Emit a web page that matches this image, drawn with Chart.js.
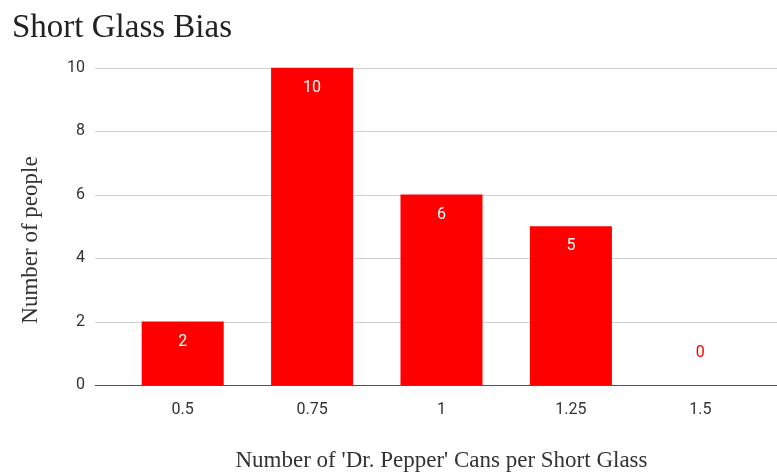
<!DOCTYPE html>
<html>
<head>
<meta charset="utf-8">
<script src="https://cdn.jsdelivr.net/npm/chart.js@4/dist/chart.umd.min.js"></script>
<style>
  html, body { margin: 0; padding: 0; background: #fff; }
  #wrap { width: 777px; height: 472px; }
</style>
</head>
<body>
<div id="wrap"><canvas id="glassChart"></canvas></div>
<script>
const categories = ["0.5", "0.75", "1", "1.25", "1.5"]
const people = [2, 10, 6, 5, 0]
const yTicks = [0, 2, 4, 6, 8, 10]
const yTitle = "Number of people"

// horizontal gridlines that run past the plot area like the original
const gridPlugin = {
  id: "wideGrid",
  beforeDatasetsDraw(chart) {
    const { ctx } = chart
    const y = chart.scales.y
    ctx.save()
    ctx.lineWidth = 1
    yTicks.forEach((v) => {
      const py = Math.round(y.getPixelForValue(v)) + 0.5
      ctx.strokeStyle = v === 0 ? "#555" : "#d0d0d0"
      ctx.beginPath()
      ctx.moveTo(95, py)
      ctx.lineTo(chart.width, py)
      ctx.stroke()
    })
    ctx.restore()
  },
}

// value labels on the bars, plus the rotated y title (sits a bit lower than centre)
const labelPlugin = {
  id: "barLabels",
  afterDatasetsDraw(chart) {
    const { ctx } = chart
    const meta = chart.getDatasetMeta(0)
    ctx.save()
    ctx.font = "16px Roboto, Arial, sans-serif"
    ctx.textAlign = "center"
    ctx.textBaseline = "middle"
    meta.data.forEach((bar, i) => {
      const v = people[i]
      if (v > 0) {
        ctx.fillStyle = "#ffffff"
        ctx.fillText(String(v), bar.x, bar.y + 20)
      } else {
        ctx.fillStyle = "#ff0000"
        ctx.fillText(String(v), bar.x, bar.base - 32)
      }
    })

    ctx.translate(31, 240)
    ctx.rotate(-Math.PI / 2)
    ctx.fillStyle = "#333"
    ctx.font = "23px 'Liberation Serif'"
    ctx.fillText(yTitle, 0, 0)
    ctx.restore()
  },
}

new Chart(document.getElementById("glassChart"), {
  type: "bar",
  data: {
    labels: categories,
    datasets: [
      {
        label: "Number of people",
        data: people,
        backgroundColor: "#ff0000",
        borderWidth: 0,
        barPercentage: 0.634,
        categoryPercentage: 1,
      },
    ],
  },
  options: {
    responsive: true,
    maintainAspectRatio: false,
    animation: false,
    layout: { padding: { left: 12, right: 12, top: 0, bottom: 0 } },
    scales: {
      x: {
        grid: { display: false, drawTicks: false },
        border: { display: false },
        ticks: { color: "#333", font: { family: "Roboto, Arial, sans-serif", size: 16 }, padding: 15 },
        title: {
          display: true,
          text: "Number of 'Dr. Pepper' Cans per Short Glass",
          color: "#333",
          font: { family: "Liberation Serif", size: 23 },
          padding: { top: 0, bottom: -3 },
        },
        afterFit(scale) {
          scale.height = 87
        },
      },
      y: {
        min: 0,
        max: 10,
        grid: { display: false, drawTicks: false },
        border: { display: false },
        ticks: { stepSize: 2, color: "#333", font: { family: "Roboto, Arial, sans-serif", size: 16 }, padding: 33 },
        afterFit(scale) {
          scale.width = 106
        },
      },
    },
    plugins: {
      legend: { display: false },
      tooltip: { enabled: false },
      title: {
        display: true,
        text: "Short Glass Bias",
        align: "start",
        color: "#222",
        font: { family: "Liberation Serif", size: 33, weight: "normal" },
        padding: { top: 9, bottom: 19 },
      },
    },
  },
  plugins: [gridPlugin, labelPlugin],
})
</script>
</body>
</html>
